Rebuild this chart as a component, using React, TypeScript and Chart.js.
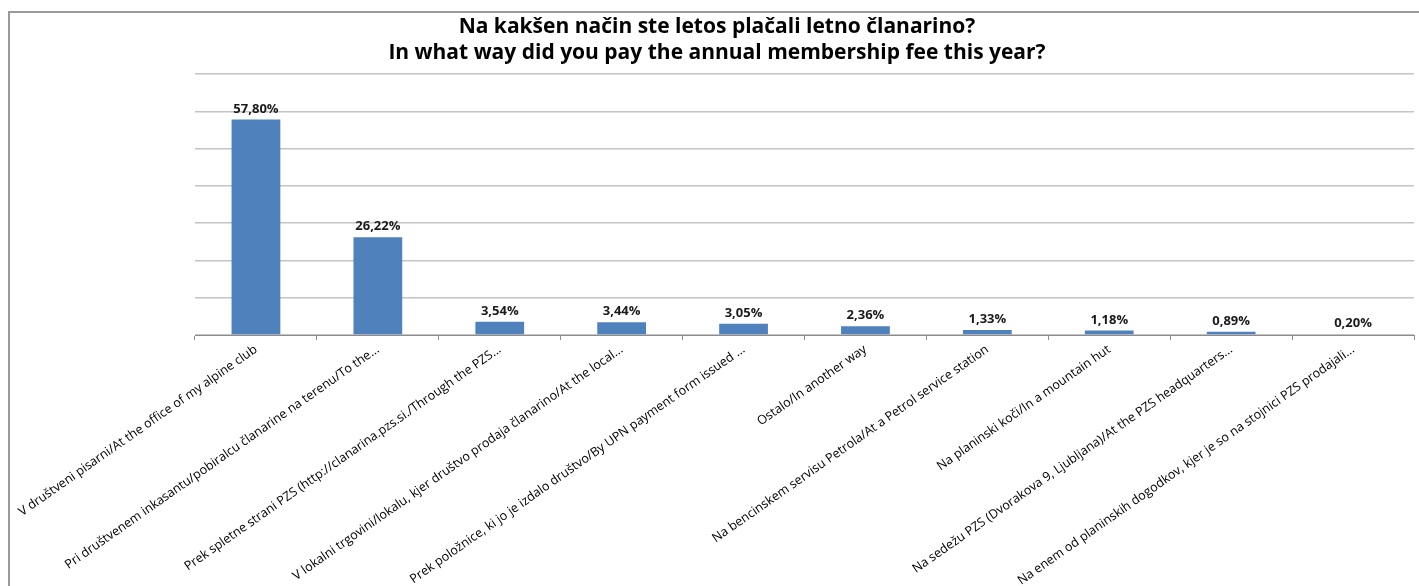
import React, { useEffect, useRef } from "react";
import { Chart, registerables } from "chart.js";

Chart.register(...registerables);

const titleLines = [
  "Na kakšen način ste letos plačali letno članarino?",
  "In what way did you pay the annual membership fee this year?",
];

const categories = [
  "V društveni pisarni/At the office of my alpine club",
  "Pri društvenem inkasantu/pobiralcu članarine na terenu/To the...",
  "Prek spletne strani PZS (http://clanarina.pzs.si./Through the PZS...",
  "V lokalni trgovini/lokalu, kjer društvo prodaja članarino/At the local...",
  "Prek položnice, ki jo je izdalo društvo/By UPN payment form issued ...",
  "Ostalo/In another way",
  "Na bencinskem servisu Petrola/At a Petrol service station",
  "Na planinski koči/In a mountain hut",
  "Na sedežu PZS (Dvorakova 9, Ljubljana)/At the PZS headquarters...",
  "Na enem od planinskih dogodkov, kjer je so na stojnici PZS prodajali...",
];

const shares = [57.8, 26.22, 3.54, 3.44, 3.05, 2.36, 1.33, 1.18, 0.89, 0.2];

const yMax = 70;
const yStep = 10;

const FONT = "'Open Sans', 'Liberation Sans', sans-serif";

const valueLabels = {
  id: "valueLabels",
  afterDatasetsDraw(chart: any) {
    const ctx = chart.ctx;
    const meta = chart.getDatasetMeta(0);
    ctx.save();
    ctx.font = `bold 13px ${FONT}`;
    ctx.fillStyle = "#1a1a1a";
    ctx.textAlign = "center";
    ctx.textBaseline = "bottom";
    meta.data.forEach((bar: any, i: number) => {
      const v = shares[i];
      const txt = v.toFixed(2).replace(".", ",") + "%";
      ctx.fillText(txt, bar.x, bar.y - 4);
    });
    ctx.restore();
  },
};

export default function App() {
  const ref = useRef<HTMLCanvasElement | null>(null);

  useEffect(() => {
    if (!ref.current) return;
    const chart = new Chart(ref.current, {
      type: "bar",
      data: {
        labels: categories,
        datasets: [
          {
            data: shares,
            backgroundColor: "#4F81BD",
            borderWidth: 0,
            barPercentage: 0.4,
            categoryPercentage: 1,
          },
        ],
      },
      options: {
        animation: false,
        responsive: true,
        maintainAspectRatio: false,
        layout: { padding: { left: 20, right: 5, top: 0, bottom: 0 } },
        plugins: {
          legend: { display: false },
          tooltip: { enabled: false },
          title: {
            display: true,
            text: titleLines,
            color: "#000",
            font: { family: FONT, size: 21, weight: "bold", lineHeight: 1.24 },
            padding: { top: 14, bottom: 8 },
          },
        },
        scales: {
          x: {
            offset: true,
            grid: {
              offset: true,
              drawOnChartArea: false,
              drawTicks: true,
              tickLength: 5,
              color: "#8c8c8c",
            },
            border: { display: true, color: "#8c8c8c", width: 1 },
            ticks: {
              autoSkip: false,
              maxRotation: 35,
              minRotation: 35,
              color: "#000",
              padding: 2,
              font: { family: FONT, size: 12.6 },
            },
            afterFit: (scale: any) => {
              scale.height = 251;
            },
          },
          y: {
            min: 0,
            max: yMax,
            ticks: { display: false, stepSize: yStep },
            grid: { color: "#c4c4c4", drawTicks: false, lineWidth: 1.5 },
            border: { display: false },
            afterFit: (scale: any) => {
              scale.width = 175;
            },
          },
        },
      },
      plugins: [valueLabels],
    });
    return () => chart.destroy();
  }, []);

  return (
    <div
      style={{
        position: "absolute",
        left: 0,
        top: 0,
        width: 1419,
        height: 586,
        background: "#fff",
        overflow: "hidden",
      }}
    >
      <div
        style={{
          position: "absolute",
          left: 8,
          top: 11,
          right: -10,
          bottom: -10,
          borderTop: "2px solid #999",
          borderLeft: "2px solid #999",
        }}
      />
      <canvas ref={ref} style={{ position: "absolute", left: 0, top: 0, width: 1419, height: 586 }} />
    </div>
  );
}
